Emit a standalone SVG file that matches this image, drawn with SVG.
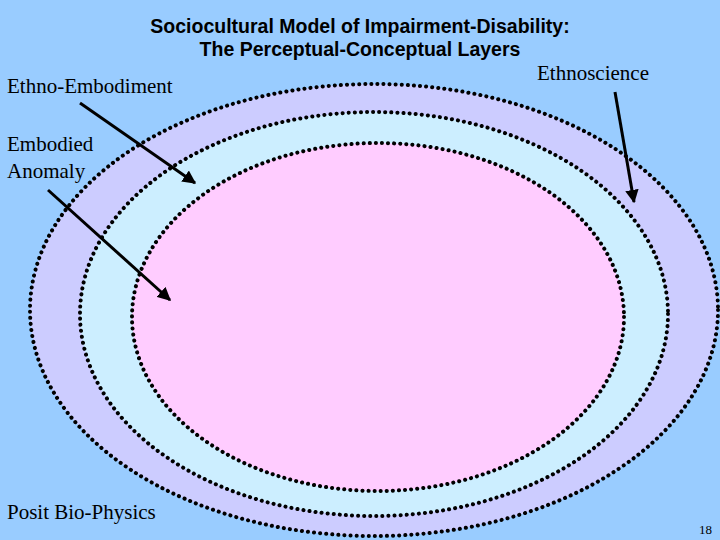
<svg xmlns="http://www.w3.org/2000/svg" width="720" height="540" viewBox="0 0 720 540">
<defs>
<style>
.ring{stroke:#000;stroke-width:4;stroke-dasharray:0.1 6;stroke-linecap:round}
.lbl{font-family:"Liberation Serif",serif;font-size:21px;fill:#000}
.ttl{font-family:"Liberation Sans",sans-serif;font-size:19.5px;font-weight:bold;fill:#000;text-anchor:middle}
.arr{stroke:#000;stroke-width:3;fill:none;marker-end:url(#ah)}
</style>
<marker id="ah" viewBox="0 0 10 10" refX="9" refY="5" markerWidth="4.5" markerHeight="4.5" orient="auto"><path d="M0,0L10,5L0,10z" fill="#000"/></marker>
</defs>
<rect width="720" height="540" fill="#99ccff"/>
<g id="outer"><ellipse cx="374" cy="310" rx="344" ry="226" fill="#ccccff" class="ring"/></g>
<g id="middle"><ellipse cx="374" cy="314" rx="294" ry="202" fill="#cceeff" class="ring"/></g>
<g id="inner"><ellipse cx="378" cy="317" rx="246" ry="174" fill="#ffccff" class="ring"/></g>
<g id="title"><text class="ttl" x="360" y="33">Sociocultural Model of Impairment-Disability:</text><text class="ttl" x="360" y="56">The Perceptual-Conceptual Layers</text></g>
<g id="labels">
<text class="lbl" x="7" y="93">Ethno-Embodiment</text>
<text class="lbl" x="7" y="151">Embodied</text>
<text class="lbl" x="7" y="178">Anomaly</text>
<text class="lbl" x="537" y="80">Ethnoscience</text>
<text class="lbl" x="7" y="519">Posit Bio-Physics</text>
<text x="712" y="534" font-family="Liberation Serif,serif" font-size="13" text-anchor="end">18</text>
</g>
<g id="connectors">
<line class="arr" x1="80" y1="103" x2="195" y2="183"/>
<line class="arr" x1="48" y1="190" x2="170" y2="300"/>
<line class="arr" x1="615" y1="92" x2="634" y2="202"/>
</g>
</svg>
